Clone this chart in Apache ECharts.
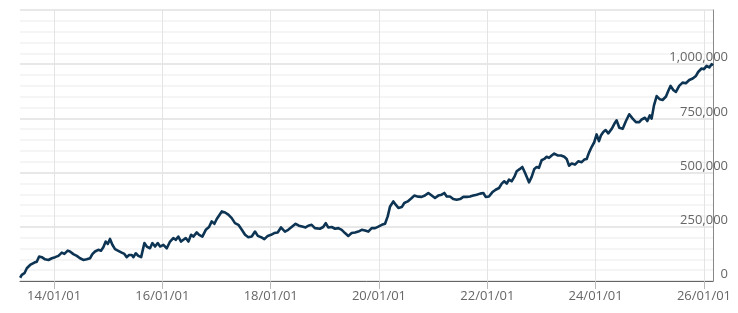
<!DOCTYPE html>
<html>
<head>
<meta charset="utf-8">
<script src="https://cdn.jsdelivr.net/npm/echarts@6/dist/echarts.min.js"></script>
<style>
html,body{margin:0;padding:0;background:#fff;}
#chart{width:738px;height:313px;}
</style>
</head>
<body>
<div id="chart"></div>
<script>
const dates = [
'2013-05-17','2013-05-28','2013-06-15','2013-07-01','2013-07-23','2013-08-04','2013-08-21','2013-09-06','2013-09-22','2013-10-10',
'2013-11-01','2013-11-24','2013-12-17','2014-01-08','2014-01-30','2014-02-22','2014-03-11','2014-04-03','2014-04-18','2014-05-11',
'2014-06-03','2014-06-25','2014-07-17','2014-08-09','2014-09-01','2014-09-16','2014-10-04','2014-10-26','2014-11-13','2014-11-29',
'2014-12-15','2014-12-29','2015-01-13','2015-01-29','2015-02-16','2015-03-10','2015-04-02','2015-04-20','2015-05-06','2015-05-22',
'2015-06-09','2015-06-20','2015-07-06','2015-07-23','2015-08-11','2015-09-02','2015-09-18','2015-10-10','2015-10-26','2015-11-13',
'2015-12-01','2015-12-17','2016-01-08','2016-01-31','2016-02-22','2016-03-15','2016-03-31','2016-04-18','2016-05-06','2016-05-22',
'2016-06-07','2016-06-25','2016-07-13','2016-07-28','2016-08-20','2016-09-05','2016-09-27','2016-10-20','2016-11-11','2016-11-29',
'2016-12-17','2017-01-02','2017-01-13','2017-02-05','2017-02-27','2017-03-21','2017-04-13','2017-05-05','2017-05-28','2017-06-20',
'2017-07-12','2017-08-03','2017-08-26','2017-09-17','2017-10-06','2017-10-28','2017-11-19','2017-12-12','2018-01-03','2018-01-25',
'2018-02-17','2018-03-11','2018-04-07','2018-04-29','2018-05-26','2018-06-18','2018-07-10','2018-08-01','2018-08-24','2018-09-11',
'2018-10-04','2018-10-26','2018-11-29','2018-12-21','2019-01-07','2019-01-24','2019-02-16','2019-03-11','2019-04-02','2019-04-25',
'2019-05-17','2019-06-08','2019-07-01','2019-07-24','2019-08-15','2019-09-07','2019-09-29','2019-10-21','2019-11-13','2019-12-06',
'2019-12-28','2020-01-20','2020-02-11','2020-02-29','2020-03-16','2020-04-07','2020-04-23','2020-05-11','2020-06-03','2020-06-20',
'2020-07-13','2020-08-09','2020-08-26','2020-09-22','2020-10-15','2020-11-06','2020-11-29','2020-12-22','2021-01-13','2021-02-04',
'2021-02-27','2021-03-17','2021-04-02','2021-04-24','2021-05-16','2021-06-08','2021-07-01','2021-07-23','2021-08-15','2021-09-06',
'2021-09-28','2021-10-21','2021-11-13','2021-12-05','2021-12-21','2022-01-12','2022-02-03','2022-02-26','2022-03-21','2022-04-08',
'2022-04-25','2022-05-12','2022-05-27','2022-06-14','2022-07-02','2022-07-18','2022-08-09','2022-08-25','2022-09-12','2022-10-09',
'2022-10-27','2022-11-14','2022-11-30','2022-12-15','2023-01-02','2023-01-20','2023-02-05','2023-02-21','2023-03-11','2023-03-28',
'2023-04-20','2023-05-13','2023-06-04','2023-06-20','2023-07-06','2023-07-24','2023-08-15','2023-09-06','2023-09-29','2023-10-17',
'2023-11-02','2023-11-17','2023-12-06','2023-12-23','2024-01-08','2024-01-24','2024-02-06','2024-02-22','2024-03-09','2024-03-27',
'2024-04-19','2024-05-11','2024-05-22','2024-06-09','2024-07-02','2024-07-24','2024-08-15','2024-09-07','2024-09-29','2024-10-22',
'2024-11-07','2024-11-29','2024-12-15','2025-01-01','2025-01-13','2025-01-29','2025-02-16','2025-03-10','2025-03-28','2025-04-20',
'2025-05-05','2025-05-21','2025-06-08','2025-06-26','2025-07-18','2025-08-10','2025-09-01','2025-09-24','2025-10-17','2025-11-08',
'2025-11-23','2025-12-16','2026-01-01','2026-01-19','2026-02-06','2026-02-22','2026-03-04'
];
// Values of the sampled points
const values = [
15000,28000,36000,59000,74000,69000,85000,89000,113000,110000,
100000,97000,105000,110000,116000,131000,125000,140000,136000,124000,
116000,105000,97000,100000,105000,124000,136000,144000,140000,156000,
182000,171000,194000,167000,147000,139000,131000,125000,110000,120000,
120000,110000,128000,116000,110000,175000,159000,151000,175000,159000,
175000,159000,167000,151000,182000,198000,190000,205000,182000,190000,
198000,182000,213000,205000,224000,213000,205000,236000,249000,275000,
264000,286000,290000,321000,316000,306000,290000,267000,259000,236000,
213000,202000,205000,228000,208000,202000,193000,208000,213000,221000,
224000,247000,228000,236000,251000,264000,255000,251000,247000,255000,
259000,244000,241000,249000,267000,247000,249000,241000,244000,236000,
221000,208000,221000,224000,228000,236000,233000,228000,244000,244000,
251000,259000,264000,298000,344000,367000,352000,337000,341000,360000,
367000,383000,394000,389000,388000,394000,406000,394000,383000,394000,
398000,406000,390000,390000,378000,375000,378000,388000,388000,390000,
394000,398000,403000,406000,388000,390000,409000,421000,429000,449000,
460000,449000,468000,460000,480000,506000,517000,526000,499000,455000,
480000,517000,526000,522000,557000,563000,573000,568000,579000,588000,
579000,579000,573000,563000,532000,542000,537000,552000,548000,560000,
563000,591000,619000,640000,676000,645000,671000,687000,696000,681000,
702000,730000,741000,707000,702000,738000,769000,749000,733000,733000,
745000,753000,738000,764000,749000,810000,853000,838000,835000,851000,
876000,900000,881000,872000,900000,915000,912000,927000,934000,946000,
964000,980000,977000,992000,985000,1000000,995000
];
// X-axis tick dates and y-axis tick values
const xTicks = ['2014-01-01','2016-01-01','2018-01-01','2020-01-01','2022-01-01','2024-01-01','2026-01-01'];
const yTicks = [0, 250000, 500000, 750000, 1000000];
const xRange = ['2013-05-16', '2026-03-03'];

function ts(s) { return new Date(s + 'T00:00:00').getTime(); }
function pad(n) { return (n < 10 ? '0' : '') + n; }

const chart = echarts.init(document.getElementById('chart'), null, {renderer: 'canvas'});
const font = '"Open Sans", "DejaVu Sans", sans-serif';
chart.setOption({
  animation: false,
  backgroundColor: '#fff',
  grid: {left: 20, right: 25, top: 10, bottom: 32, containLabel: false},
  xAxis: {
    type: 'value',
    min: ts(xRange[0]),
    max: ts(xRange[1]),
    axisLine: {show: true, lineStyle: {color: '#666', width: 1}},
    axisTick: {show: true, length: 8, lineStyle: {color: '#bbb'}, customValues: xTicks.map(ts)},
    axisLabel: {
      customValues: xTicks.map(ts),
      color: '#666', fontSize: 13, fontFamily: font, margin: 9,
      formatter: function (v) {
        const d = new Date(v);
        return pad(d.getFullYear() % 100) + '/' + pad(d.getMonth() + 1) + '/' + pad(d.getDate());
      }
    },
    splitLine: {show: true, lineStyle: {color: '#e4e4e4', width: 1}}
  },
  yAxis: {
    type: 'value',
    position: 'right',
    min: 0,
    max: 1250000,
    interval: 250000,
    axisLine: {show: true, lineStyle: {color: '#888', width: 1}},
    axisTick: {show: false},
    axisLabel: {
      color: '#666', fontSize: 13, fontFamily: font,
      align: 'right', margin: 15, verticalAlign: 'bottom',
      formatter: function (v) { return yTicks.indexOf(v) >= 0 ? v.toLocaleString('en-US') : ''; }
    },
    splitLine: {show: true, lineStyle: {color: '#e8e8e8', width: 2}},
    minorTick: {show: false, splitNumber: 5},
    minorSplitLine: {show: true, lineStyle: {color: '#f2f2f2', width: 1.5}}
  },
  series: [{
    type: 'line',
    data: dates.map((d, i) => [ts(d), values[i]]),
    showSymbol: false,
    symbol: 'none',
    lineStyle: {color: '#0d3453', width: 2.6, join: 'round'},
    z: 3
  }]
});
</script>
</body>
</html>
